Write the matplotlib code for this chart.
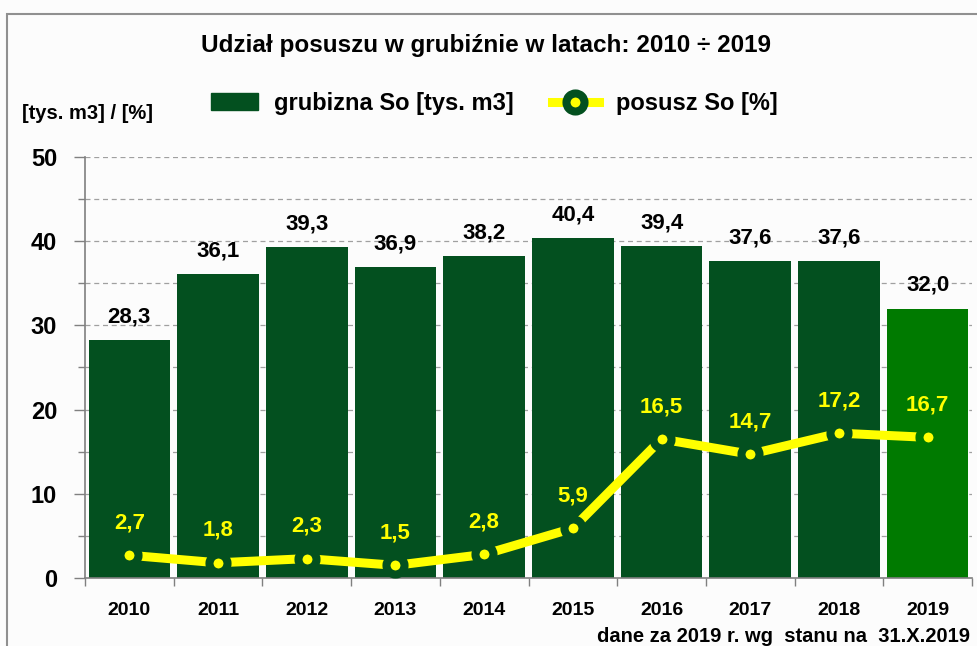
import matplotlib
matplotlib.use("Agg")
import matplotlib.pyplot as plt
from matplotlib.patches import Rectangle
from matplotlib.lines import Line2D
import numpy as np

years = ["2010", "2011", "2012", "2013", "2014", "2015", "2016", "2017", "2018", "2019"]
grubizna = [28.3, 36.1, 39.3, 36.9, 38.2, 40.4, 39.4, 37.6, 37.6, 32.0]
posusz = [2.7, 1.8, 2.3, 1.5, 2.8, 5.9, 16.5, 14.7, 17.2, 16.7]

FONT = ["Liberation Sans Narrow", "Liberation Sans", "DejaVu Sans"]
plt.rcParams['font.family'] = FONT

DARK = "#03501F"
LIGHT = "#007A00"
YEL = "#FFFF00"

fig = plt.figure(figsize=(9.78, 6.46), dpi=100, facecolor="#FCFCFC")
ax = fig.add_axes([0.0869, 0.1053, 0.9070, 0.6517])
ax.set_facecolor("#FCFCFC")

# frame border
fig.patches.append(Rectangle((0.007, -0.1), 1.2, 1.078, transform=fig.transFigure,
                             fill=False, edgecolor="#909090", lw=1.5))

x = np.arange(len(years))
colors = [DARK] * 9 + [LIGHT]
ax.set_ylim(0, 50)
ax.set_xlim(-0.5, 9.5)
for yv in [5, 10, 15, 20, 25, 30, 35, 40, 45, 50]:
    ax.axhline(yv, color="#A0A0A0", lw=0.9, ls=(0, (4, 3)), zorder=0)
ax.bar(x, grubizna, width=0.92, color=colors, zorder=2)
for xi, v in zip(x, grubizna):
    ax.text(xi, v + 1.5, f"{v:.1f}".replace(".", ","), ha="center", va="bottom",
            fontsize=16, fontweight="bold", color="black")

ax.plot(x, posusz, color=YEL, lw=6.5, zorder=3, solid_capstyle="butt")
for xi, v, c in zip(x, posusz, colors):
    ax.plot([xi], [v], 'o', ms=13, mfc=YEL, mec=c, mew=5.8, zorder=4, ls="none")
for xi, v in zip(x, posusz):
    ax.text(xi, v + 2.6, f"{v:.1f}".replace(".", ","), ha="center", va="bottom",
            fontsize=16, fontweight="bold", color=YEL, zorder=5)

ax.set_yticks(range(0, 51, 10))
ax.set_yticks(range(0, 51, 5), minor=True)
ax.set_xticks(x)
ax.set_xticklabels(years)
ax.set_xticks(np.arange(-0.5, 10, 1), minor=True)
ax.tick_params(axis='y', which='major', labelsize=17, length=8, color="#808080", width=1, pad=12)
ax.tick_params(axis='y', which='minor', length=5, color="#808080", width=1)
ax.tick_params(axis='x', which='major', length=0, labelsize=14, pad=17)
ax.tick_params(axis='x', which='minor', length=6, color="#808080", width=1)
for lab in ax.get_yticklabels() + ax.get_xticklabels():
    lab.set_fontweight("bold")
for s in ["top", "right"]:
    ax.spines[s].set_visible(False)
for s in ["left", "bottom"]:
    ax.spines[s].set_color("#808080")
    ax.spines[s].set_linewidth(1.2)

fig.text(0.497, 0.93, "Udział posuszu w grubiźnie w latach: 2010 ÷ 2019", ha="center", va="center",
         fontsize=17.5, fontweight="bold")
fig.text(0.023, 0.824, "[tys. m3] / [%]", ha="left", va="center", fontsize=14.5, fontweight="bold")
fig.text(0.992, 0.015, "dane za 2019 r. wg  stanu na  31.X.2019", ha="right", va="center",
         fontsize=14.5, fontweight="bold")

h1 = Rectangle((0, 0), 1, 1, color=DARK)
h2 = Line2D([], [], color=YEL, lw=6.5, marker='o', ms=13, mfc=YEL, mec=DARK, mew=5.8)
fig.legend([h1, h2], ["grubizna So [tys. m3]", "posusz So [%]"], loc="center",
           bbox_to_anchor=(0.505, 0.84), ncol=2, frameon=False,
           prop={"weight": "bold", "size": 17, "family": FONT},
           handlelength=2.0, columnspacing=1.6, handletextpad=0.7)

fig.savefig("out.png", dpi=100, facecolor=fig.get_facecolor())
